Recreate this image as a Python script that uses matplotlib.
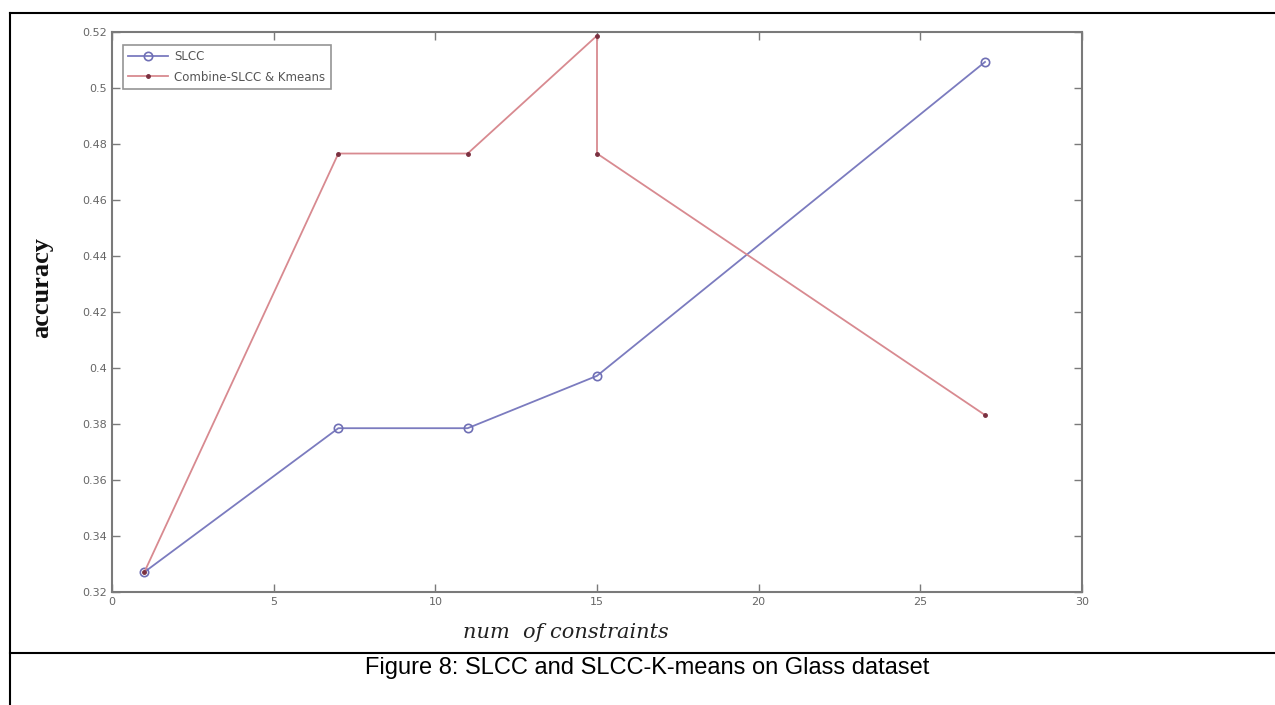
import matplotlib
matplotlib.use("Agg")
import matplotlib.pyplot as plt
from matplotlib.lines import Line2D

# Data
slcc_x = [1, 7, 11, 15, 27]
slcc_y = [0.3271, 0.3785, 0.3785, 0.3972, 0.5093]
comb_x = [1, 7, 11, 15, 15, 27]
comb_y = [0.3271, 0.4766, 0.4766, 0.5187, 0.4766, 0.3832]
xticks = [0, 5, 10, 15, 20, 25, 30]
yticks = [0.32, 0.34, 0.36, 0.38, 0.40, 0.42, 0.44, 0.46, 0.48, 0.50, 0.52]
ytick_labels = ["0.32", "0.34", "0.36", "0.38", "0.4", "0.42", "0.44", "0.46", "0.48", "0.5", "0.52"]

W, H = 1275, 705
fig = plt.figure(figsize=(W / 100, H / 100), dpi=100)
fig.patch.set_facecolor("white")

ax = fig.add_axes([112 / W, 1 - 592 / H, 970 / W, 560 / H])
gray = "#7a7a7a"
ax.plot(slcc_x, slcc_y, color="#7b7bbf", lw=1.3, marker="o", ms=6,
        mfc="none", mec="#6f6fb5", mew=1.2, label="SLCC")
ax.plot(comb_x, comb_y, color="#d88a90", lw=1.3, marker=".", ms=5,
        mfc="#7a3040", mec="#7a3040", label="Combine-SLCC & Kmeans")

ax.set_xlim(0, 30)
ax.set_ylim(0.32, 0.52)
ax.set_xticks(xticks)
ax.set_yticks(yticks)
ax.set_yticklabels(ytick_labels)
ax.tick_params(direction="in", top=True, right=True, length=6, width=1,
               colors=gray, labelsize=8, labelcolor="#666666")
for s in ax.spines.values():
    s.set_color(gray)
    s.set_linewidth(1.5)

leg = ax.legend(loc="upper left", fontsize=8.5, frameon=True, fancybox=False,
                borderpad=0.45, handlelength=3.4, labelspacing=0.65,
                handletextpad=0.5, bbox_to_anchor=(0.005, 0.988))
leg.get_frame().set_edgecolor(gray)
leg.get_frame().set_linewidth(1.2)
for t in leg.get_texts():
    t.set_color("#555555")

fig.text(566 / W, 1 - 633 / H, "num  of constraints", family="DejaVu Serif",
         style="italic", fontsize=15, ha="center", va="center", color="#222222")
fig.text(42 / W, 1 - 287 / H, "accuracy", family="Liberation Serif",
         weight="bold", fontsize=19, rotation=90, ha="center", va="center", color="#111111")
fig.text(647 / W, 1 - 668 / H, "Figure 8: SLCC and SLCC-K-means on Glass dataset",
         family="Liberation Sans", fontsize=17, ha="center", va="center", color="black")

# table borders
fig.add_artist(Line2D([10 / W, 1], [1 - 13 / H, 1 - 13 / H], color="black", lw=1.5))
fig.add_artist(Line2D([10 / W, 10 / W], [0, 1 - 13 / H], color="black", lw=1.5))
fig.add_artist(Line2D([10 / W, 1], [1 - 653 / H, 1 - 653 / H], color="black", lw=1.5))

fig.savefig("out.png", dpi=100, facecolor="white")
